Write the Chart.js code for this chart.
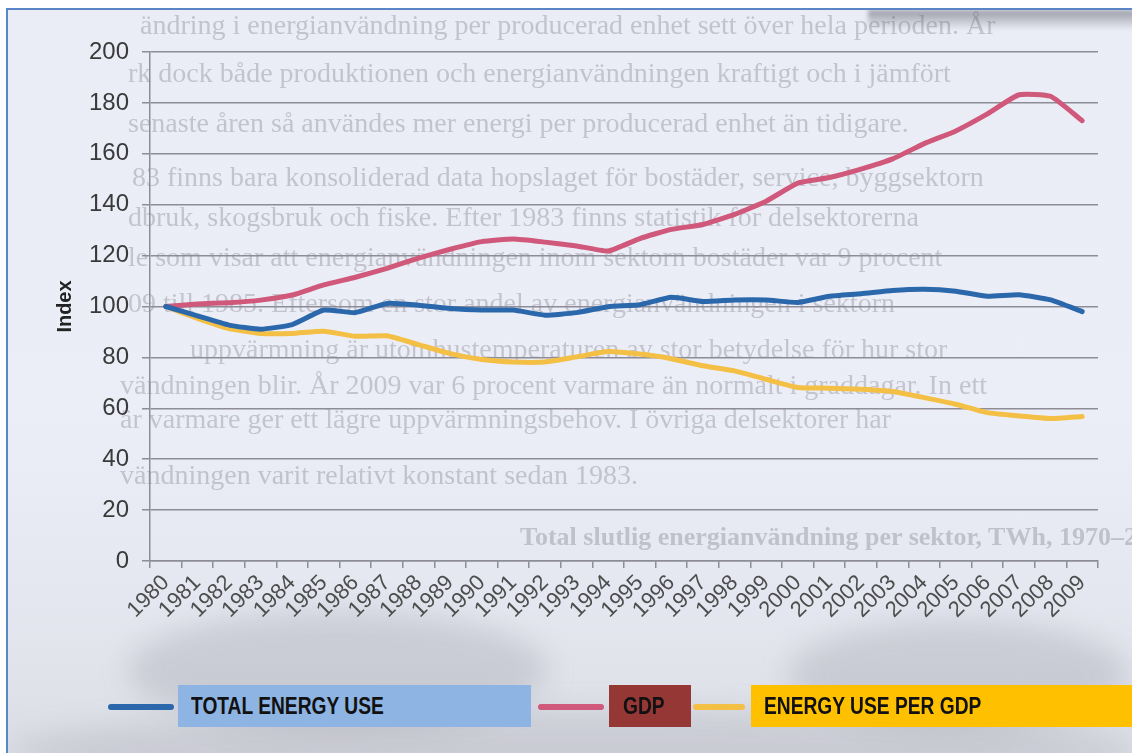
<!DOCTYPE html>
<html>
<head>
<meta charset="utf-8">
<script src="https://cdn.jsdelivr.net/npm/chart.js@4.4.1/dist/chart.umd.min.js"></script>
<style>
  html, body { margin: 0; padding: 0; background: #ffffff; }
  #page {
    position: relative; width: 1132px; height: 753px; overflow: hidden;
    background: #ffffff;
  }
  #sheet {
    position: absolute; left: 6px; top: 8px; right: 0; bottom: 0;
    background: linear-gradient(180deg, #eaecf6 0%, #eceef7 55%, #e5e7f0 80%, #dcdee6 100%);
    border-top: 2px solid #5a86c8; border-left: 2px solid #5a86c8;
    overflow: hidden;
  }
  #edge {
    position: absolute; left: 860px; top: 0; width: 272px; height: 20px;
    background: linear-gradient(180deg, rgba(90,92,100,0.55), rgba(90,92,100,0));
    filter: blur(2px);
  }
  .blob { position: absolute; border-radius: 50%; background: rgba(120,122,132,0.22); filter: blur(14px); }
  #bgtext { position: absolute; left: 8px; top: 10px; width: 1124px; height: 743px; overflow: hidden; }
  .bg {
    position: absolute; white-space: nowrap;
    font-family: "Liberation Serif", "DejaVu Serif", serif;
    font-size: 28px; line-height: 30px; color: rgba(70,72,85,0.25);
    filter: blur(0.5px);
  }
  #chartBox { position: absolute; left: 0; top: 0; width: 1132px; height: 753px; }
  .swatch { position: absolute; height: 6px; border-radius: 3px; }
  .lbox {
    position: absolute; top: 685px; height: 42px; line-height: 42px;
    white-space: nowrap; overflow: hidden;
  }
  .lbox span {
    display: inline-block; transform: scaleX(0.8); transform-origin: left center;
    font-family: "Liberation Sans", Arial, sans-serif;
    font-weight: bold; font-size: 24px; color: #111;
  }
</style>
</head>
<body>
<div id="page">
  <div id="sheet">
    <div id="edge"></div>
    <div class="blob" style="left:120px; top:600px; width:420px; height:120px;"></div>
    <div class="blob" style="left:780px; top:610px; width:340px; height:110px;"></div>
    <div class="blob" style="left:0px; top:700px; width:1132px; height:80px; background:rgba(120,122,132,0.18);"></div>
  </div>
  <div id="bgtext"></div>
  <div id="chartBox"><canvas id="chart" width="1132" height="753"></canvas></div>
  <div id="legend"></div>
</div>
<script>
// Index series, 1980 = 100
const years = ["1980","1981","1982","1983","1984","1985","1986","1987","1988","1989",
  "1990","1991","1992","1993","1994","1995","1996","1997","1998","1999",
  "2000","2001","2002","2003","2004","2005","2006","2007","2008","2009"];

const totalEnergyUse = [100, 96.3, 92.7, 91.1, 92.9, 98.6, 97.6, 101.2, 100.5, 99.2,
  98.6, 98.6, 96.6, 97.6, 99.9, 100.7, 103.6, 102.0, 102.6, 102.6,
  101.6, 104.0, 105.0, 106.3, 106.8, 106.0, 104.0, 104.6, 102.6, 98.0];

const gdp = [100, 101.0, 101.5, 102.5, 104.5, 108.5, 111.5, 115.0, 119.0, 122.5,
  125.5, 126.5, 125.3, 123.8, 121.8, 126.7, 130.3, 132.2, 136.2, 141.4,
  148.5, 150.7, 154.0, 158.0, 164.0, 169.0, 175.7, 183.2, 182.6, 173.0];

const energyUsePerGdp = [100, 95.3, 91.3, 89.4, 89.4, 90.3, 88.3, 88.5, 85.0, 81.5,
  79.2, 78.2, 78.2, 80.2, 82.3, 81.3, 79.5, 76.7, 74.7, 71.4,
  68.2, 67.9, 67.5, 66.6, 64.2, 61.6, 58.3, 57.0, 56.0, 56.8];

const yTicks = [0, 20, 40, 60, 80, 100, 120, 140, 160, 180, 200];

const seriesNames = ["TOTAL ENERGY USE", "GDP", "ENERGY USE PER GDP"];
const lineColors = ["#2b68ab", "#d0587a", "#f4bf45"];
const boxColors = ["#8db4e2", "#953735", "#ffc000"];

// Printed page text that shows through behind the diagram
const pageLines = [
  "ändring i energianvändning per producerad enhet sett över hela perioden. År",
  "rk dock både produktionen och energianvändningen kraftigt och i jämfört",
  "senaste åren så användes mer energi per producerad enhet än tidigare.",
  "83 finns bara konsoliderad data hopslaget för bostäder, service, byggsektorn",
  "dbruk, skogsbruk och fiske. Efter 1983 finns statistik för delsektorerna",
  "le som visar att energianvändningen inom sektorn bostäder var 9 procent",
  "09 till 1985. Eftersom en stor andel av energianvändningen i sektorn",
  "uppvärmning är utomhustemperaturen av stor betydelse för hur stor",
  "vändningen blir. År 2009 var 6 procent varmare än normalt i graddagar. In ett",
  "är varmare ger ett lägre uppvärmningsbehov. I övriga delsektorer har",
  "vändningen varit relativt konstant sedan 1983.",
  "Total slutlig energianvändning per sektor, TWh, 1970–2009"
];
const pageLineY = [0, 48, 98, 152, 192, 232, 278, 324, 360, 394, 450, 512];
const pageLineX = [132, 120, 120, 124, 120, 120, 120, 182, 112, 112, 112, 512];

const bgBox = document.getElementById("bgtext");
pageLines.forEach((t, i) => {
  const d = document.createElement("div");
  d.className = "bg";
  d.textContent = t;
  d.style.left = pageLineX[i] + "px";
  d.style.top = pageLineY[i] + "px";
  if (i === pageLines.length - 1) { d.style.fontWeight = "bold"; d.style.fontSize = "26px"; }
  bgBox.appendChild(d);
});

// Legend: line swatch followed by a coloured label box
const legend = document.getElementById("legend");
const swatchX = [108, 538, 693], swatchW = [66, 66, 52];
const boxX = [178, 609, 751], boxW = [353, 82, 381], textPad = [13, 14, 13];
seriesNames.forEach((name, i) => {
  const s = document.createElement("div");
  s.className = "swatch";
  s.style.left = swatchX[i] + "px";
  s.style.width = swatchW[i] + "px";
  s.style.top = "704px";
  s.style.background = lineColors[i];
  legend.appendChild(s);
  const b = document.createElement("div");
  b.className = "lbox";
  b.style.left = boxX[i] + "px";
  b.style.width = (boxW[i] - textPad[i]) + "px";
  b.style.paddingLeft = textPad[i] + "px";
  b.style.background = boxColors[i];
  const sp = document.createElement("span");
  sp.textContent = name;
  b.appendChild(sp);
  legend.appendChild(b);
});

const gridColor = "#8e8c96";

new Chart(document.getElementById("chart"), {
  type: "line",
  data: {
    labels: years,
    datasets: [totalEnergyUse, gdp, energyUsePerGdp].map((values, i) => ({
      label: seriesNames[i],
      data: values,
      borderColor: lineColors[i],
      backgroundColor: lineColors[i],
      borderWidth: 5,
      pointRadius: 0,
      tension: 0.15,
      borderCapStyle: "round",
      borderJoinStyle: "round",
      fill: false
    }))
  },
  options: {
    responsive: false,
    animation: false,
    devicePixelRatio: 1,
    layout: { padding: { top: 52, right: 34, bottom: 0, left: 0 } },
    plugins: { legend: { display: false }, tooltip: { enabled: false } },
    scales: {
      x: {
        type: "category",
        offset: true,
        afterFit: (scale) => { scale.height = 192; },
        grid: {
          display: true, drawOnChartArea: false, drawTicks: true,
          tickLength: 7, color: gridColor, lineWidth: 1.5, offset: true
        },
        border: { display: true, color: gridColor, width: 1.5 },
        ticks: {
          autoSkip: false, minRotation: 45, maxRotation: 45, padding: 2,
          color: "#4d4d4d",
          font: { family: "'Liberation Sans', Arial, sans-serif", size: 22 }
        }
      },
      y: {
        min: 0, max: 200,
        afterFit: (scale) => { scale.width = 150; },
        afterBuildTicks: (scale) => { scale.ticks = yTicks.map(v => ({ value: v })); },
        grid: { color: gridColor, lineWidth: 1.5, tickLength: 8 },
        border: { display: true, color: gridColor, width: 1.5 },
        ticks: {
          padding: 13, color: "#3a3a3a",
          font: { family: "'Liberation Sans', Arial, sans-serif", size: 24 }
        },
        title: {
          display: true, text: "Index", color: "#222",
          padding: { top: 53, bottom: 0 },
          font: { family: "'Liberation Sans', Arial, sans-serif", size: 20, weight: "bold", lineHeight: 1.2 }
        }
      }
    }
  }
});
</script>
</body>
</html>
